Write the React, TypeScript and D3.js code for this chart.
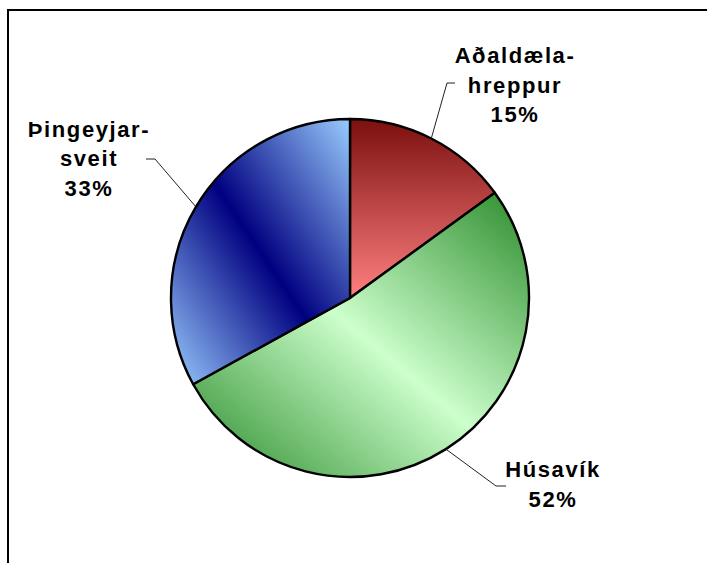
import React from "react";
import * as d3 from "d3";

const categories = ["Aðaldæla-\nhreppur", "Húsavík", "Þingeyjar-\nsveit"];
const values = [15, 52, 33];
const percentLabels = ["15%", "52%", "33%"];

const W = 707;
const H = 563;
const cx = 350;
const cy = 298;
const R = 179;

// label anchor (text center x, first baseline y) and leader elbow
const labelLayout = [
  { x: 515, y: 63, elbow: [447, 83], end: [455, 83] },
  { x: 553, y: 477, elbow: [496, 486], end: [506, 486] },
  { x: 89, y: 136.5, elbow: [155, 159], end: [146, 159] },
];

const gradients = [
  { id: "gRed", x1: 0, y1: 0, x2: 0, y2: 1, stops: [["0%", "#7c0f0f"], ["100%", "#ff8080"]] },
  { id: "gGreen", x1: 1, y1: 0, x2: 0, y2: 1, stops: [["0%", "#2a8a2a"], ["50%", "#ccffcc"], ["100%", "#2a8a2a"]] },
  { id: "gBlue", x1: 1, y1: 0, x2: 0, y2: 1, stops: [["0%", "#99ccff"], ["50%", "#000080"], ["100%", "#99ccff"]] },
];

export default function App() {
  const pie = d3.pie<number>().sort(null).startAngle(0).endAngle(2 * Math.PI)(values);
  const arc = d3.arc<d3.PieArcDatum<number>>().innerRadius(0).outerRadius(R);
  const lineLen = 29.5;
  return (
    <svg width={W} height={H} style={{ position: "absolute", left: 0, top: 0, background: "#fff" }}>
      <defs>
        {gradients.map((g) => (
          <linearGradient key={g.id} id={g.id} x1={g.x1} y1={g.y1} x2={g.x2} y2={g.y2}>
            {g.stops.map(([o, c]) => (
              <stop key={o} offset={o} stopColor={c} />
            ))}
          </linearGradient>
        ))}
      </defs>
      <rect x={8} y={10} width={W + 20} height={H + 20} fill="#fff" stroke="#000" strokeWidth={2} />
      <g transform={`translate(${cx},${cy})`}>
        {pie.map((d, i) => (
          <path key={i} d={arc(d) || ""} fill={`url(#${gradients[i].id})`} stroke="#000" strokeWidth={2.4} strokeLinejoin="round" />
        ))}
      </g>
      {pie.map((d, i) => {
        const a = (d.startAngle + d.endAngle) / 2;
        const sx = cx + R * Math.sin(a);
        const sy = cy - R * Math.cos(a);
        const L = labelLayout[i];
        return (
          <polyline
            key={"l" + i}
            points={`${sx},${sy} ${L.elbow[0]},${L.elbow[1]} ${L.end[0]},${L.end[1]}`}
            fill="none"
            stroke="#222"
            strokeWidth={1}
          />
        );
      })}
      {pie.map((d, i) => {
        const L = labelLayout[i];
        const lines = [...categories[i].split("\n"), percentLabels[i]];
        return (
          <text
            key={"t" + i}
            x={L.x}
            y={L.y}
            textAnchor="middle"
            fontFamily="'Liberation Sans', Arial, sans-serif"
            fontWeight="bold"
            fontSize={22}
            letterSpacing={1.6}
            fill="#000"
          >
            {lines.map((s, k) => (
              <tspan key={k} x={L.x} y={L.y + k * lineLen}>
                {s}
              </tspan>
            ))}
          </text>
        );
      })}
    </svg>
  );
}
